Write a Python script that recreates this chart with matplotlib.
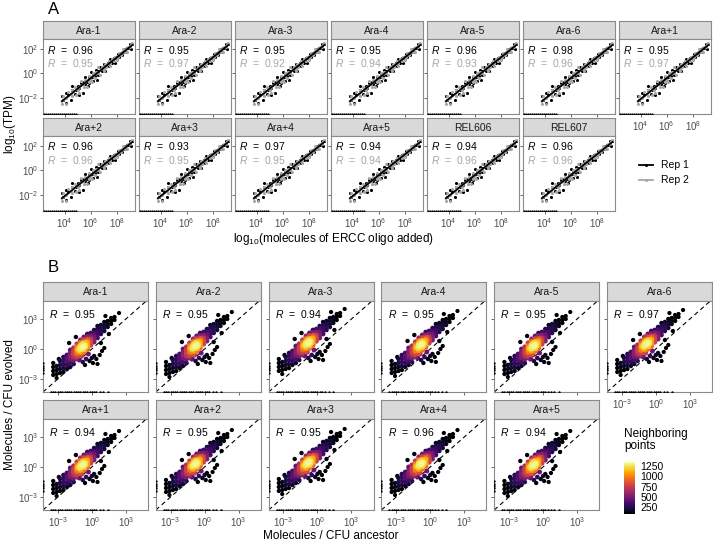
import numpy as np
import matplotlib
matplotlib.use("Agg")
import matplotlib.pyplot as plt
from matplotlib.colors import Normalize

plt.rcParams['font.family'] = ['Liberation Sans', 'DejaVu Sans']
plt.rcParams['mathtext.fontset'] = 'custom'
plt.rcParams['mathtext.rm'] = 'Liberation Sans'
plt.rcParams['mathtext.it'] = 'Liberation Sans:italic'

W, H = 713, 542

# ---------------- panel A data (log10 scale) ----------------
a_lines = ["Ara-1", "Ara-2", "Ara-3", "Ara-4", "Ara-5", "Ara-6", "Ara+1",
           "Ara+2", "Ara+3", "Ara+4", "Ara+5", "REL606", "REL607"]
a_r_rep1 = [0.96, 0.95, 0.95, 0.95, 0.96, 0.98, 0.95, 0.96, 0.93, 0.97, 0.94, 0.94, 0.96]
a_r_rep2 = [0.95, 0.97, 0.92, 0.94, 0.93, 0.96, 0.97, 0.96, 0.95, 0.95, 0.94, 0.96, 0.96]

ercc_x = [3.8, 3.9, 4.1, 4.1, 4.3, 4.5, 4.6, 4.6, 4.8, 4.9, 5.0, 5.1, 5.1, 5.3, 5.4,
          5.5, 5.6, 5.6, 5.7, 5.8, 5.9, 5.9, 6.0, 6.1, 6.2, 6.2, 6.3, 6.4, 6.5, 6.6,
          6.6, 6.7, 6.8, 6.9, 7.0, 7.0, 7.1, 7.2, 7.3, 7.4, 7.5, 7.5, 7.6, 7.7, 7.8,
          7.9, 8.0, 8.0, 8.1, 8.2, 8.3, 8.4, 8.5, 8.6, 8.7, 8.8, 8.9, 9.0, 9.1, 9.2]
tpm_rep1 = [-1.9, -2.2, -2.4, -1.6, -1.8, -2.2, -1.4, -1.0, -1.7, -1.4, -1.0, -1.8,
            -1.2, -0.8, -1.6, -0.7, -0.3, -0.9, -0.7, -1.0, -0.3, -0.8, 0.1, -0.3,
            -0.6, -0.1, -0.2, 0.3, -0.5, 0.2, -0.1, 0.5, 0.4, 0.2, 0.4, 0.8, 0.2, 0.7,
            0.9, 0.6, 1.0, 1.2, 0.9, 1.1, 1.3, 0.9, 1.4, 1.3, 1.6, 1.4, 1.7, 1.5, 1.8,
            2.0, 1.8, 2.1, 2.1, 2.4, 2.0, 2.4]
tpm_rep2 = [-2.5, -1.9, -2.0, -2.5, -1.5, -1.7, -1.9, -1.4, -1.1, -1.8, -1.4, -1.1,
            -1.6, -0.6, -0.9, -1.1, -0.5, -0.6, -1.1, -0.5, -0.7, -0.2, -0.5, -0.7,
            0.0, -0.2, -0.4, 0.1, 0.0, 0.0, 0.5, -0.1, 0.4, 0.5, 0.2, 0.4, 0.8, 0.5,
            0.8, 1.0, 0.6, 0.9, 1.2, 1.2, 1.0, 1.4, 1.1, 1.4, 1.4, 1.7, 1.5, 1.8, 2.0,
            1.8, 2.0, 1.8, 2.2, 2.2, 2.4, 2.5]
# spike-ins with zero TPM (drawn on the lower edge)
ercc_zero_x = [2.45, 2.6, 2.75, 2.9, 3.05, 3.2, 3.35, 3.5, 3.65, 3.8, 3.95, 4.1,
               4.25, 4.4, 4.55, 4.7, 4.9]

# ---------------- panel B data (log10 molecules / CFU) ----------------
b_lines = ["Ara-1", "Ara-2", "Ara-3", "Ara-4", "Ara-5", "Ara-6",
           "Ara+1", "Ara+2", "Ara+3", "Ara+4", "Ara+5"]
b_r = [0.95, 0.95, 0.94, 0.95, 0.95, 0.97, 0.94, 0.95, 0.95, 0.96, 0.94]
b_shift_y = [0.0, 0.1, 0.4, 0.2, 0.1, 0.3, 0.0, 0.1, 0.2, 0.1, 0.0]

anc_x = [-3.4, -3.4, -3.4,
         -3.1, -3.1, -3.1, -3.1,
         -2.8, -2.8, -2.8, -2.8,
         -2.5, -2.5, -2.5, -2.5, -2.5,
         -2.2, -2.2, -2.2, -2.2, -2.2,
         -1.9, -1.9, -1.9, -1.9, -1.9, -1.9,
         -1.6, -1.6, -1.6, -1.6, -1.6, -1.6,
         -1.3, -1.3, -1.3, -1.3, -1.3, -1.3,
         -1.0, -1.0, -1.0, -1.0, -1.0, -1.0,
         -0.7, -0.7, -0.7, -0.7, -0.7, -0.7,
         -0.4, -0.4, -0.4, -0.4, -0.4, -0.4,
         -0.1, -0.1, -0.1, -0.1, -0.1,
         0.2, 0.2, 0.2, 0.2, 0.2,
         0.5, 0.5, 0.5, 0.5, 0.5,
         0.8, 0.8, 0.8, 0.8,
         1.1, 1.1, 1.1, 1.1,
         1.4, 1.4, 1.4,
         1.7, 1.7, 1.7,
         2.0, 2.0,
         -1.0, -0.8, -0.6, -0.9, -0.7, -0.5, -1.1, -0.8, -0.6, -0.4, -1.2, -0.3,
         -1.4, -1.1, -0.8, -0.5, -0.2, 0.1, 0.4, 0.7, -0.9, -0.3, 0.2, 0.5, 0.9,
         -0.6, 1.1, 0.0,
         2.4, 1.2, -2.0, -1.4, -2.9, -3.4, 1.5, 0.8]
evo_y = [-2.6, -2.2, -1.8,
         -2.5, -2.1, -1.7, -2.9,
         -2.4, -2.0, -1.6, -1.2,
         -2.3, -1.9, -1.5, -1.1, -0.8,
         -2.0, -1.6, -1.2, -0.9, -0.6,
         -1.8, -1.4, -1.0, -0.7, -0.4, -0.1,
         -1.5, -1.1, -0.8, -0.5, -0.2, 0.1,
         -1.0, -0.7, -0.4, -0.1, 0.2, 0.5,
         -0.6, -0.3, 0.0, 0.3, 0.6, 0.9,
         -0.3, 0.0, 0.3, 0.6, 0.9, 1.2,
         0.0, 0.3, 0.6, 0.9, 1.2, 1.5,
         0.4, 0.7, 1.0, 1.3, 1.6,
         0.7, 1.0, 1.3, 1.6, 1.9,
         1.1, 1.4, 1.7, 2.0, 2.3,
         1.5, 1.8, 2.1, 2.4,
         1.8, 2.1, 2.4, 2.7,
         2.2, 2.5, 2.8,
         2.5, 2.8, 3.1,
         2.9, 3.2,
         0.1, 0.2, 0.4, 0.4, 0.0, 0.6, -0.1, 0.5, 0.2, 0.7, 0.0, 0.9,
         -0.8, -1.1, -1.3, -1.0, -1.2, -1.4, -1.0, -0.6, -0.7, -0.5, -0.7, -1.5, -0.2,
         -1.6, 0.1, -0.9,
         3.6, 3.3, 0.6, 1.2, -1.0, -1.4, 1.5, 0.6]
anc_zero_x = [-3.6, -3.4, -3.2, -3.0, -2.8, -2.6, -2.4, -2.2, -2.0, -1.8, -1.6, -1.4,
              -1.2, -1.0, -0.8, -0.6, -0.4, -0.2, 0.0, 0.2, 0.4, 0.7, 1.0, 1.4]
evo_zero_y = [-1.4, -1.7, -1.9, -2.1, -2.4]

# ---------------- helpers ----------------
fig = plt.figure(figsize=(W / 100, H / 100), dpi=100)
BORDER = '#8a8a8a'
TICKC = '#4d4d4d'


def add_px_axes(x0, y0, w, h):
    return fig.add_axes([x0 / W, 1 - (y0 + h) / H, w / W, h / H])


def make_panel(x0, y0, w, h, strip_h, title):
    strip = add_px_axes(x0, y0 - strip_h, w, strip_h)
    strip.set_facecolor('#d9d9d9')
    strip.set_xticks([])
    strip.set_yticks([])
    for s in strip.spines.values():
        s.set_color(BORDER)
        s.set_linewidth(0.8)
    strip.text(0.5, 0.45, title, ha='center', va='center', fontsize=7.5, color='#1a1a1a',
               transform=strip.transAxes)
    ax = add_px_axes(x0, y0, w, h)
    for s in ax.spines.values():
        s.set_color(BORDER)
        s.set_linewidth(0.8)
    ax.tick_params(length=2.5, width=0.6, color=TICKC, labelcolor=TICKC, labelsize=7, pad=1.0)
    return ax


# ---------------- panel A ----------------
ax_x = np.array(ercc_x)
a_xlim, a_ylim = (2.35, 9.4), (-3.35, 2.85)
for i, name in enumerate(a_lines):
    row, col = divmod(i, 7)
    y0 = 39 if row == 0 else 136
    ax = make_panel(43 + 96 * col, y0, 92, 75, 18, name)
    for ys, c, z in ((tpm_rep1, 'black', 2), (tpm_rep2, '#a6a6a6', 3)):
        ax.scatter(ax_x, ys, s=5, color=c, lw=0, zorder=z)
    for ys, c in ((tpm_rep2, '#a6a6a6'), (tpm_rep1, 'black')):
        k, b = np.polyfit(ax_x, np.array(ys), 1)
        ax.plot([ax_x.min(), ax_x.max()], [k * ax_x.min() + b, k * ax_x.max() + b],
                color=c, lw=1.3, zorder=4)
    ax.scatter(ercc_zero_x, [a_ylim[0]] * len(ercc_zero_x), s=2.5, color='black', lw=0, zorder=5)
    ax.set_xlim(a_xlim)
    ax.set_ylim(a_ylim)
    ax.set_xticks([4, 6, 8])
    ax.set_yticks([-2, 0, 2])
    ax.set_yticklabels(['$10^{-2}$', '$10^{0}$', '$10^{2}$'])
    if row == 1 or col == 6:
        ax.set_xticklabels(['$10^{4}$', '$10^{6}$', '$10^{8}$'])
    else:
        ax.set_xticklabels([])
    if col != 0:
        ax.set_yticklabels([])
    ax.text(0.04, 0.94, '$R$  =  %.2f' % a_r_rep1[i], transform=ax.transAxes, fontsize=7.5,
            va='top', color='black', zorder=6)
    ax.text(0.04, 0.76, '$R$  =  %.2f' % a_r_rep2[i], transform=ax.transAxes, fontsize=7.5,
            va='top', color='#a6a6a6', zorder=6)

# legend for replicates
lg = add_px_axes(630, 155, 80, 35)
lg.set_xlim(0, 80)
lg.set_ylim(35, 0)
lg.axis('off')
for yy, c, lab in ((10, 'black', 'Rep 1'), (25, '#a6a6a6', 'Rep 2')):
    lg.plot([9, 23], [yy, yy], color=c, lw=1.3)
    lg.scatter([16], [yy], s=5, color=c, lw=0)
    lg.text(31, yy, lab, va='center', fontsize=7.5)

fig.text(48 / W, 1 - 10 / H, 'A', fontsize=12, va='center')
fig.text(10 / W, 1 - 124 / H, 'log$_{10}$(TPM)', rotation=90, ha='center', va='center', fontsize=8.5)
fig.text(333 / W, 1 - 239 / H, 'log$_{10}$(molecules of ERCC oligo added)', ha='center', va='center',
         fontsize=8.5)

# ---------------- panel B ----------------
bx = np.array(anc_x)
by = np.array(evo_y)
# neighbour density (smoothed count); each drawn point stands for a subsample
d2 = (bx[:, None] - bx[None, :]) ** 2 + ((by[:, None] - by[None, :]) * 1.2) ** 2
dens = np.exp(-d2 / (2 * 0.75 ** 2)).sum(axis=1)
neigh = 1320 * (dens / dens.max()) ** 2.5
order = np.argsort(neigh)
norm = Normalize(vmin=90, vmax=1350)
cmap = plt.get_cmap('inferno')

b_xlim, b_ylim = (-4.3, 4.95), (-4.3, 4.8)
for i, name in enumerate(b_lines):
    row, col = divmod(i, 6)
    y0 = 301 if row == 0 else 419
    ax = make_panel(43 + 112.8 * col, y0, 105, 91, 19, name)
    ax.plot(b_xlim, b_xlim, ls=(0, (4, 3)), color='black', lw=0.8, zorder=1)
    sizes = 9 + 10 * neigh[order] / 1320
    sc = ax.scatter(bx[order], by[order] + b_shift_y[i], c=neigh[order], cmap=cmap, norm=norm,
                    s=sizes, lw=0, zorder=2)
    ax.scatter(anc_zero_x, [b_ylim[0]] * len(anc_zero_x), s=3, color='black', lw=0, zorder=3)
    ax.scatter([b_xlim[0]] * len(evo_zero_y), evo_zero_y, s=3, color='black', lw=0, zorder=3)
    ax.set_xlim(b_xlim)
    ax.set_ylim(b_ylim)
    ax.set_xticks([-3, 0, 3])
    ax.set_yticks([-3, 0, 3])
    ax.set_yticklabels(['$10^{-3}$', '$10^{0}$', '$10^{3}$'])
    if row == 1 or col == 5:
        ax.set_xticklabels(['$10^{-3}$', '$10^{0}$', '$10^{3}$'])
    else:
        ax.set_xticklabels([])
    if col != 0:
        ax.set_yticklabels([])
    ax.text(0.06, 0.92, '$R$  =  %.2f' % b_r[i], transform=ax.transAxes, fontsize=7.5, va='top',
            zorder=6)

cax = add_px_axes(624, 462, 11, 52)
cb = fig.colorbar(sc, cax=cax, ticks=[250, 500, 750, 1000, 1250])
cb.outline.set_visible(False)
cb.ax.tick_params(length=2, color='white', labelsize=7.5, pad=2)
fig.text(624 / W, 1 - 428 / H, 'Neighboring\npoints', fontsize=8.5, va='top', linespacing=1.0)

fig.text(48 / W, 1 - 267 / H, 'B', fontsize=12, va='center')
fig.text(10 / W, 1 - 405 / H, 'Molecules / CFU evolved', rotation=90, ha='center', va='center',
         fontsize=8.5)
fig.text(331 / W, 1 - 536 / H, 'Molecules / CFU ancestor', ha='center', va='center', fontsize=8.5)

fig.savefig('out.png', dpi=100)
